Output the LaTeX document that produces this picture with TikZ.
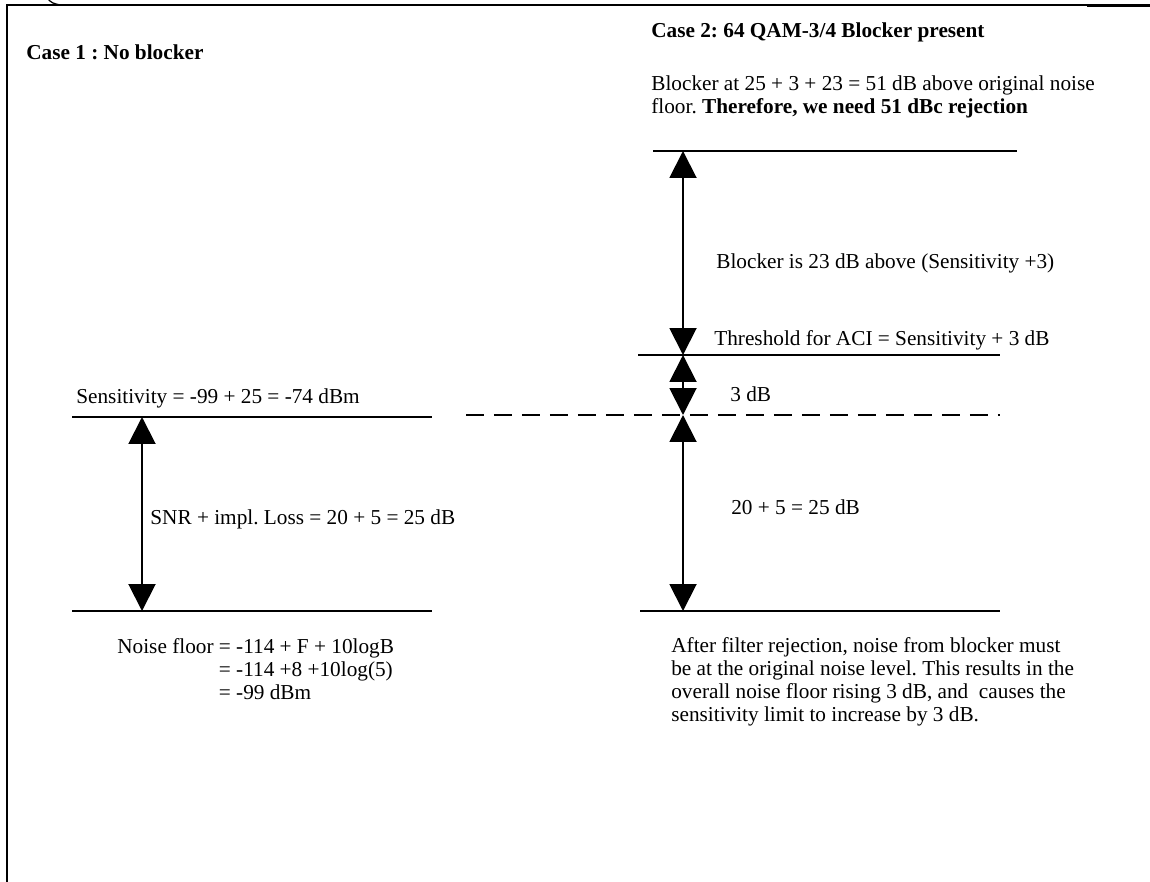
\documentclass[tikz,border=0pt]{standalone}
\usepackage{fontspec}
\setmainfont{Liberation Serif}
\usetikzlibrary{arrows.meta}
\frenchspacing
\tikzset{
  txt/.style={inner sep=0pt, anchor=west, font=\fontsize{12.1}{13.1}\selectfont},
  bold/.style={txt, font=\fontsize{12.1}{13.1}\selectfont\bfseries},
  level/.style={line width=0.3mm},
  dim/.style={line width=0.4mm, {Triangle[length=0.54cm,width=0.54cm]}-{Triangle[length=0.54cm,width=0.54cm]}},
  frame/.style={line width=0.3mm}
}
\begin{document}
\begin{tikzpicture}[x=0.02cm,y=-0.02cm]
\useasboundingbox (0,0) rectangle (1150,882);
% frame
\draw[frame] (7,882) -- (7,5) -- (1150,5);
\draw[line width=0.5mm] (1087,6) -- (1150,6);
\draw[line width=0.25mm] (48,-1) .. controls (52,3) .. (60,5);
% level lines
\draw[level] (72,417) -- (432,417);
\draw[level] (72,611) -- (432,611);
\draw[level] (653,151) -- (1017,151);
\draw[level] (638,355) -- (1000,355);
\draw[level, dash pattern=on 0.36cm off 0.2cm] (466,415) -- (1000,415);
\draw[level] (640,611) -- (1000,611);
% arrow end points
\coordinate (lt) at (142,417);
\coordinate (lb) at (142,611);
\coordinate (rt) at (683,151);
\coordinate (rth) at (683,355);
\coordinate (rd) at (683,415);
\coordinate (rb) at (683,611);
\draw[dim] (lt) -- (lb);
\draw[dim] (rt) -- (rth);
\draw[dim] (rth) -- (rd);
\draw[dim] (rd) -- (rb);
% texts
\node[bold] (c1) at (26,52) {Case 1 : No blocker};
\node[bold] (c2) at (651,32) {Case 2: 64 QAM-3/4 Blocker present};
\node[txt, anchor=north west, align=left] (blk) at (651,75) {Blocker at 25 + 3 + 23 = 51 dB above original noise\\floor. \textbf{Therefore, we need 51 dBc rejection}};
\node[txt] (b23) at (716,263) {Blocker is 23 dB above (Sensitivity +3)};
\node[txt] (thr) at (714,340) {Threshold for ACI = Sensitivity + 3 dB};
\node[txt] (d3) at (730,394) {3 dB};
\node[txt] (sens) at (76,398) {Sensitivity = -99 + 25 = -74 dBm};
\node[txt] (snr) at (150,519) {SNR + impl. Loss = 20 + 5 = 25 dB};
\node[txt] (d25) at (731,507) {20 + 5 = 25 dB};
\node[txt, anchor=north west] (nf) at (117,637) {\begin{tabular}{@{}r@{\hspace{0.25em}}l@{}}Noise floor &= -114 + F + 10logB\\ &= -114 +8 +10log(5)\\ &= -99 dBm\end{tabular}};
\node[txt, anchor=north west, align=left] (after) at (671,637) {After filter rejection, noise from blocker must\\be at the original noise level. This results in the\\overall noise floor rising 3 dB, and\ \ causes the\\sensitivity limit to increase by 3 dB.};
\end{tikzpicture}
\end{document}
